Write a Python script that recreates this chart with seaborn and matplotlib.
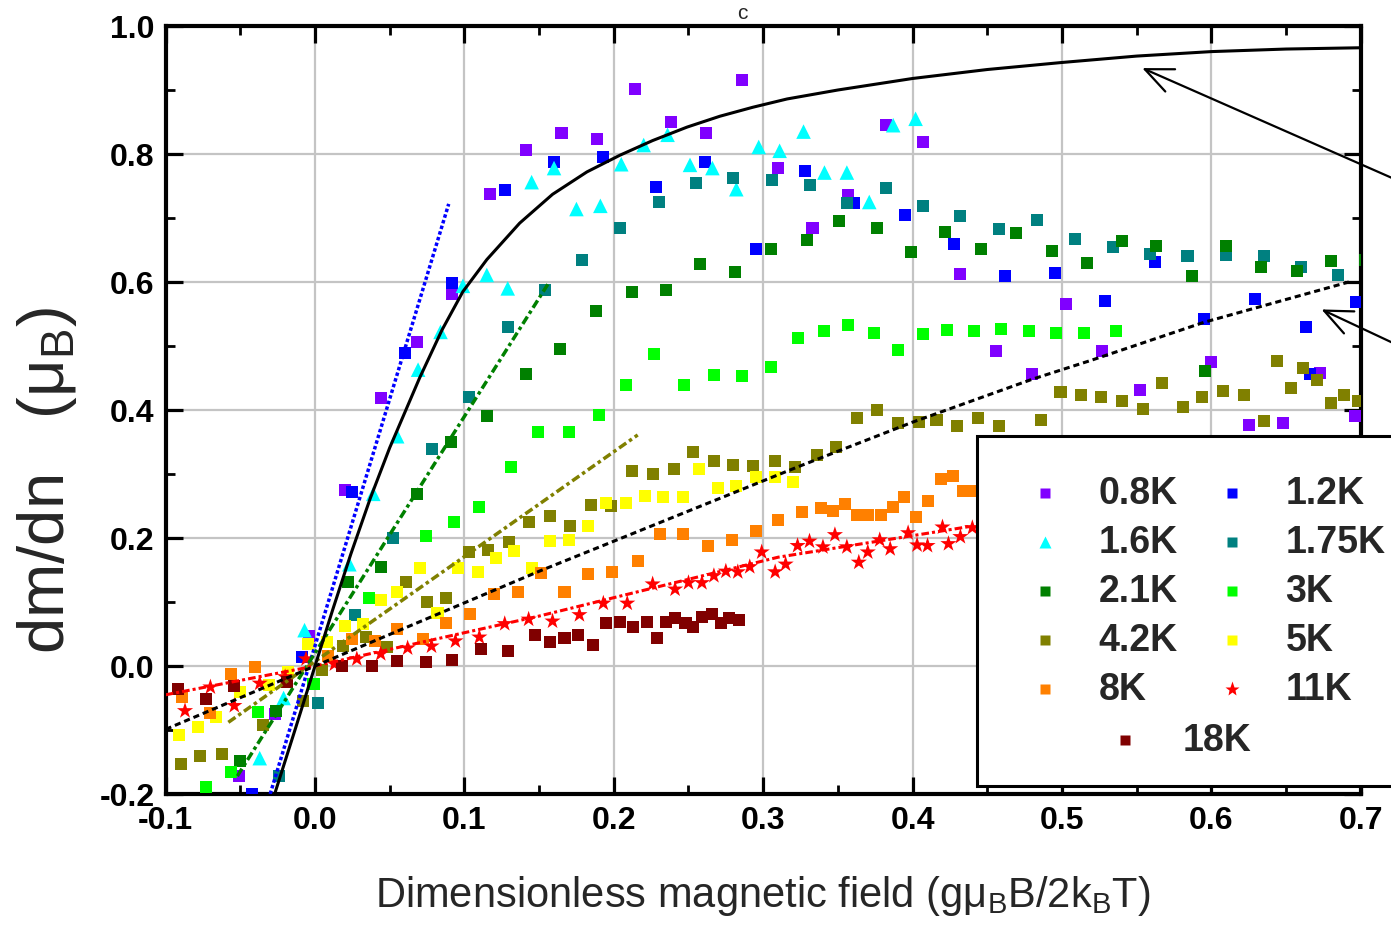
import numpy as np
import pandas as pd
import matplotlib.pyplot as plt
import seaborn as sns
from matplotlib.patches import Rectangle
from matplotlib.ticker import MultipleLocator, FormatStrFormatter

sns.set_theme(style='whitegrid')
plt.rcParams['font.family'] = ['Liberation Sans', 'DejaVu Sans']
plt.rcParams['mathtext.fontset'] = 'custom'
plt.rcParams['mathtext.rm'] = 'Liberation Sans'
plt.rcParams['mathtext.it'] = 'Liberation Sans:italic'
plt.rcParams['mathtext.bf'] = 'Liberation Sans:bold'
plt.rcParams['axes.unicode_minus'] = False

# Data: (field, dm/dn)
pts_08k = [(-0.051, -0.172), (-0.027, -0.075), (-0.004, 0.047), (0.020, 0.275), (0.044, 0.419),
           (0.068, 0.506), (0.092, 0.581), (0.117, 0.737), (0.141, 0.806), (0.165, 0.833),
           (0.189, 0.823), (0.214, 0.902), (0.238, 0.850), (0.262, 0.833), (0.286, 0.916),
           (0.310, 0.778), (0.333, 0.684), (0.357, 0.736), (0.382, 0.845), (0.407, 0.818),
           (0.432, 0.613), (0.456, 0.492), (0.480, 0.456), (0.503, 0.565), (0.527, 0.492),
           (0.552, 0.431), (0.600, 0.475), (0.625, 0.377), (0.648, 0.380), (0.673, 0.458),
           (0.696, 0.391)]
pts_12k = [(-0.042, -0.200), (-0.009, 0.014), (0.025, 0.272), (0.060, 0.489), (0.092, 0.598),
           (0.127, 0.744), (0.160, 0.788), (0.193, 0.795), (0.228, 0.748), (0.261, 0.788),
           (0.295, 0.652), (0.328, 0.773), (0.361, 0.724), (0.395, 0.704), (0.428, 0.660),
           (0.462, 0.609), (0.495, 0.614), (0.529, 0.570), (0.562, 0.632), (0.595, 0.542),
           (0.629, 0.573), (0.663, 0.530), (0.666, 0.456), (0.697, 0.568)]
pts_16k = [(-0.037, -0.144), (-0.021, -0.050), (-0.007, 0.056), (0.023, 0.159), (0.039, 0.269),
           (0.055, 0.359), (0.069, 0.463), (0.084, 0.522), (0.099, 0.594), (0.115, 0.611),
           (0.129, 0.590), (0.145, 0.756), (0.160, 0.778), (0.175, 0.714), (0.191, 0.719),
           (0.205, 0.784), (0.220, 0.814), (0.236, 0.830), (0.251, 0.783), (0.266, 0.778),
           (0.282, 0.745), (0.297, 0.811), (0.311, 0.805), (0.327, 0.835), (0.341, 0.771),
           (0.356, 0.771), (0.371, 0.725), (0.387, 0.845), (0.402, 0.855)]
pts_175k = [(-0.024, -0.172), (0.002, -0.058), (0.027, 0.080), (0.052, 0.200), (0.078, 0.339),
            (0.103, 0.420), (0.129, 0.530), (0.154, 0.588), (0.179, 0.634), (0.204, 0.684),
            (0.230, 0.725), (0.255, 0.755), (0.280, 0.763), (0.306, 0.760), (0.331, 0.751),
            (0.356, 0.723), (0.382, 0.747), (0.407, 0.718), (0.432, 0.703), (0.458, 0.683),
            (0.483, 0.697), (0.509, 0.667), (0.534, 0.655), (0.559, 0.644), (0.584, 0.641),
            (0.610, 0.642), (0.635, 0.641), (0.660, 0.623), (0.685, 0.611)]
pts_21k = [(-0.050, -0.148), (-0.026, -0.070), (0.022, 0.131), (0.044, 0.155), (0.068, 0.269),
           (0.091, 0.350), (0.115, 0.391), (0.141, 0.456), (0.164, 0.495), (0.188, 0.555),
           (0.212, 0.584), (0.235, 0.588), (0.258, 0.628), (0.281, 0.616), (0.305, 0.652),
           (0.329, 0.666), (0.351, 0.695), (0.376, 0.684), (0.399, 0.647), (0.422, 0.678),
           (0.446, 0.652), (0.469, 0.676), (0.493, 0.648), (0.517, 0.629), (0.540, 0.664),
           (0.563, 0.656), (0.587, 0.609), (0.596, 0.461), (0.610, 0.656), (0.633, 0.623),
           (0.657, 0.617), (0.680, 0.633), (0.703, 0.635)]
pts_3k = [(-0.073, -0.189), (-0.056, -0.166), (-0.038, -0.072), (-0.001, -0.028), (0.036, 0.106),
          (0.074, 0.203), (0.093, 0.225), (0.110, 0.249), (0.131, 0.311), (0.149, 0.366),
          (0.170, 0.366), (0.190, 0.392), (0.208, 0.439), (0.227, 0.488), (0.247, 0.439),
          (0.267, 0.455), (0.286, 0.453), (0.305, 0.467), (0.323, 0.513), (0.341, 0.523),
          (0.357, 0.533), (0.374, 0.520), (0.390, 0.494), (0.407, 0.519), (0.423, 0.525),
          (0.441, 0.523), (0.459, 0.527), (0.478, 0.524), (0.496, 0.520), (0.515, 0.520),
          (0.536, 0.524)]
pts_42k = [(-0.090, -0.153), (-0.077, -0.140), (-0.062, -0.138), (-0.035, -0.092), (-0.008, -0.055),
           (0.005, -0.006), (0.019, 0.031), (0.034, 0.045), (0.048, 0.030), (0.061, 0.131),
           (0.075, 0.100), (0.088, 0.106), (0.103, 0.178), (0.116, 0.181), (0.130, 0.194),
           (0.143, 0.225), (0.157, 0.234), (0.171, 0.219), (0.185, 0.252), (0.198, 0.250),
           (0.212, 0.305), (0.226, 0.300), (0.240, 0.308), (0.253, 0.334), (0.267, 0.320),
           (0.280, 0.314), (0.293, 0.312), (0.308, 0.320), (0.321, 0.311), (0.336, 0.330),
           (0.349, 0.342), (0.363, 0.387), (0.376, 0.400), (0.390, 0.380), (0.404, 0.381),
           (0.416, 0.384), (0.430, 0.375), (0.444, 0.388), (0.458, 0.375), (0.486, 0.384),
           (0.499, 0.428), (0.513, 0.423), (0.526, 0.420), (0.540, 0.414), (0.554, 0.401),
           (0.567, 0.442), (0.581, 0.405), (0.594, 0.420), (0.608, 0.430), (0.622, 0.424),
           (0.635, 0.383), (0.644, 0.477), (0.653, 0.434), (0.661, 0.466), (0.671, 0.447),
           (0.680, 0.411), (0.689, 0.424), (0.698, 0.414)]
pts_5k = [(-0.091, -0.108), (-0.078, -0.095), (-0.066, -0.080), (-0.050, -0.040), (-0.031, -0.030),
          (-0.018, -0.010), (-0.005, 0.034), (0.008, 0.037), (0.020, 0.063), (0.032, 0.066),
          (0.044, 0.103), (0.055, 0.115), (0.070, 0.153), (0.082, 0.083), (0.096, 0.153),
          (0.109, 0.147), (0.121, 0.169), (0.133, 0.180), (0.145, 0.153), (0.157, 0.195),
          (0.170, 0.197), (0.183, 0.219), (0.195, 0.255), (0.208, 0.255), (0.221, 0.266),
          (0.233, 0.264), (0.246, 0.264), (0.257, 0.308), (0.270, 0.278), (0.282, 0.281),
          (0.295, 0.295), (0.308, 0.295), (0.320, 0.288)]
pts_8k = [(-0.089, -0.048), (-0.070, -0.073), (-0.056, -0.013), (-0.040, -0.002), (0.009, 0.016),
          (0.025, 0.042), (0.040, 0.039), (0.055, 0.058), (0.072, 0.042), (0.088, 0.067),
          (0.104, 0.081), (0.120, 0.113), (0.136, 0.116), (0.151, 0.145), (0.167, 0.116),
          (0.183, 0.144), (0.199, 0.147), (0.216, 0.164), (0.231, 0.206), (0.246, 0.206),
          (0.263, 0.188), (0.279, 0.197), (0.295, 0.211), (0.310, 0.228), (0.326, 0.240),
          (0.339, 0.247), (0.347, 0.242), (0.355, 0.253), (0.363, 0.236), (0.370, 0.236),
          (0.379, 0.236), (0.387, 0.248), (0.394, 0.264), (0.402, 0.233), (0.410, 0.258),
          (0.419, 0.292), (0.427, 0.297), (0.434, 0.273), (0.442, 0.274)]
pts_11k = [(-0.087, -0.070), (-0.070, -0.033), (-0.054, -0.062), (-0.037, -0.027), (-0.020, -0.017),
           (-0.006, 0.011), (0.013, 0.003), (0.028, 0.011), (0.044, 0.019), (0.062, 0.028),
           (0.078, 0.031), (0.094, 0.039), (0.110, 0.045), (0.127, 0.066), (0.143, 0.073),
           (0.159, 0.070), (0.177, 0.080), (0.193, 0.098), (0.209, 0.098), (0.226, 0.128),
           (0.241, 0.120), (0.250, 0.130), (0.259, 0.130), (0.267, 0.141), (0.275, 0.148),
           (0.283, 0.147), (0.291, 0.155), (0.299, 0.178), (0.308, 0.147), (0.315, 0.159),
           (0.323, 0.188), (0.331, 0.195), (0.340, 0.186), (0.348, 0.205), (0.356, 0.186),
           (0.364, 0.162), (0.370, 0.178), (0.378, 0.197), (0.385, 0.183), (0.397, 0.208),
           (0.403, 0.189), (0.410, 0.188), (0.420, 0.217), (0.424, 0.191), (0.432, 0.202),
           (0.440, 0.216)]
pts_18k = [(-0.092, -0.036), (-0.073, -0.052), (-0.054, -0.031), (-0.019, -0.025), (0.018, 0.000),
           (0.038, 0.000), (0.055, 0.008), (0.074, 0.006), (0.092, 0.010), (0.111, 0.026),
           (0.129, 0.024), (0.147, 0.049), (0.157, 0.037), (0.167, 0.044), (0.176, 0.048),
           (0.186, 0.033), (0.195, 0.067), (0.204, 0.069), (0.213, 0.061), (0.222, 0.069),
           (0.229, 0.044), (0.235, 0.069), (0.241, 0.075), (0.248, 0.067), (0.253, 0.061),
           (0.259, 0.077), (0.266, 0.081), (0.272, 0.067), (0.277, 0.075), (0.284, 0.072)]

# fitted / model curves
fit_12k = [(-0.030, -0.200), (0.0895, 0.722)]
fit_21k = [(-0.052, -0.172), (0.156, 0.597)]
fit_42k = [(-0.058, -0.088), (0.216, 0.361)]
fit_11k = [(-0.100, -0.045), (0.000, 0.000), (0.150, 0.078), (0.310, 0.170), (0.441, 0.219)]
curve_low_t = [(-0.027, -0.200), (-0.013, -0.097), (0.000, 0.000), (0.012, 0.089), (0.024, 0.175),
               (0.037, 0.262), (0.050, 0.341), (0.070, 0.450), (0.085, 0.525), (0.099, 0.585),
               (0.115, 0.635), (0.137, 0.692), (0.159, 0.737), (0.182, 0.772), (0.204, 0.798),
               (0.226, 0.821), (0.249, 0.842), (0.271, 0.859), (0.293, 0.873), (0.316, 0.886),
               (0.350, 0.900), (0.400, 0.918), (0.450, 0.932), (0.500, 0.943), (0.550, 0.953),
               (0.600, 0.960), (0.650, 0.964), (0.700, 0.966)]
curve_high_t = [(-0.100, -0.099), (0.000, 0.000), (0.150, 0.148), (0.200, 0.195), (0.323, 0.311),
                (0.400, 0.381), (0.480, 0.448), (0.520, 0.478), (0.595, 0.537), (0.692, 0.600)]

labels = ['0.8K', '1.2K', '1.6K', '1.75K', '2.1K', '3K', '4.2K', '5K', '8K', '11K', '18K']
colors = ['#8000ff', '#0000ff', '#00ffff', '#008080', '#008000', '#00ff00',
          '#808000', '#ffff00', '#ff8000', '#ff0000', '#800000']
markers = ['s', 's', '^', 's', 's', 's', 's', 's', 's', '*', 's']
all_pts = [pts_08k, pts_12k, pts_16k, pts_175k, pts_21k, pts_3k,
           pts_42k, pts_5k, pts_8k, pts_11k, pts_18k]

fig = plt.figure(figsize=(13.91, 9.28), dpi=100)
ax = fig.add_axes([0.11905, 0.14332, 0.85924, 0.82759])

for lab, pts, col, mk in zip(labels, all_pts, colors, markers):
    df = pd.DataFrame(pts, columns=['h', 'm'])
    size = {'s': 75, '^': 110, '*': 150}[mk]
    sns.scatterplot(data=df, x='h', y='m', marker=mk, s=size, color=col,
                    edgecolor='none', linewidth=0, ax=ax, legend=False, zorder=3)

line_specs = [
    (fit_12k, '#0000ff', (0, (1.0, 0.7)), 2.5),
    (fit_21k, '#008000', (0, (2.5, 1.0, 1.0, 1.0)), 2.5),
    (fit_42k, '#808000', (0, (2.5, 1.0, 1.0, 1.0)), 2.5),
    (fit_11k, '#ff0000', (0, (2.5, 1.0, 1.0, 1.0)), 2.2),
    (curve_low_t, 'black', '-', 2.2),
    (curve_high_t, 'black', (0, (2.0, 1.3)), 2.2),
]
for pts, col, ls, lw in line_specs:
    df = pd.DataFrame(pts, columns=['h', 'm'])
    sns.lineplot(data=df, x='h', y='m', color=col, linestyle=ls, lw=lw,
                 sort=False, estimator=None, ax=ax, zorder=4)

ax.set_xlim(-0.1, 0.7)
ax.set_ylim(-0.2, 1.0)
ax.xaxis.set_major_locator(MultipleLocator(0.1))
ax.xaxis.set_minor_locator(MultipleLocator(0.05))
ax.yaxis.set_major_locator(MultipleLocator(0.2))
ax.yaxis.set_minor_locator(MultipleLocator(0.1))
ax.xaxis.set_major_formatter(FormatStrFormatter('%.1f'))
ax.yaxis.set_major_formatter(FormatStrFormatter('%.1f'))
ax.set_xlabel('')
ax.set_ylabel('')

ax.grid(True, which='major', color='#c4c4c4', lw=1.6)
ax.grid(False, which='minor')
ax.set_axisbelow(True)
for sp in ax.spines.values():
    sp.set_color('black')
    sp.set_linewidth(3)
ax.tick_params(which='major', direction='in', length=12, width=2.3, colors='black',
               top=True, right=True, bottom=True, left=True, labelsize=23, pad=8)
ax.tick_params(which='minor', direction='in', length=6.5, width=2.0, colors='black',
               top=True, right=True, bottom=True, left=True)
for t in ax.get_xticklabels() + ax.get_yticklabels():
    t.set_fontweight('bold')

# axis titles
fig.text(763 / 1391, 1 - 896 / 928,
         r'Dimensionless magnetic field (g$\mathrm{\mu}_{\mathrm{B}}$B/2k$_{\mathrm{B}}$T)',
         ha='center', va='center', fontsize=30)
fig.text(0.034, 1 - 480 / 928, r'dm/dn   (μ$_{\mathrm{B}}$)', rotation=90,
         ha='center', va='center', fontsize=47)
# partial label at the top edge of the crop
fig.text(0.534, 1 - 19 / 928, 'c', ha='center', va='baseline', fontsize=15)

# legend box (cut by the right edge like the original)
ax.add_patch(Rectangle((0.679, 0.0104), 0.45, 0.4556, transform=ax.transAxes,
                       facecolor='white', edgecolor='black', lw=2.2, clip_on=False, zorder=20))
leg_pos = [(0.7358, 0.392), (0.8922, 0.392), (0.7358, 0.328), (0.8922, 0.328),
           (0.7358, 0.264), (0.8922, 0.264), (0.7358, 0.200), (0.8922, 0.200),
           (0.7358, 0.137), (0.8922, 0.137), (0.8027, 0.070)]
for lab, col, mk, (lx, ly) in zip(labels, colors, markers, leg_pos):
    ms = {'s': 7, '^': 9, '*': 11}[mk]
    ax.plot([lx], [ly], marker=mk, ms=ms, color=col, mec='none', linestyle='none',
            transform=ax.transAxes, clip_on=False, zorder=21)
    tx = lx + 0.0447 if lab != '18K' else lx + 0.0485
    ax.text(tx, ly, lab, transform=ax.transAxes, ha='left', va='center',
            fontsize=27, fontweight='bold', zorder=22, clip_on=False)

# arrows from outside the crop
ax.annotate('', xy=(0.552, 0.936), xytext=(0.884, 0.595),
            arrowprops=dict(arrowstyle='->,head_length=0.8,head_width=0.35',
                            mutation_scale=25, lw=1.6, color='black'),
            annotation_clip=False, zorder=25)
ax.annotate('', xy=(0.672, 0.559), xytext=(0.819, 0.398),
            arrowprops=dict(arrowstyle='->,head_length=0.8,head_width=0.35',
                            mutation_scale=25, lw=1.6, color='black'),
            annotation_clip=False, zorder=25)

fig.savefig('out.png', dpi=100)
